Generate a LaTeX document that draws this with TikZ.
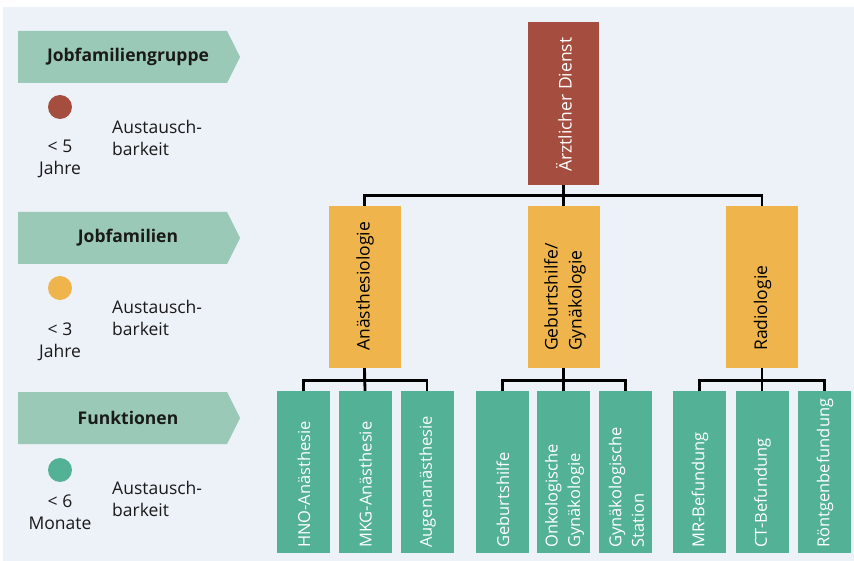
\documentclass[tikz,border=0pt]{standalone}
\usepackage{fontspec}
\setmainfont{Open Sans}
\definecolor{bgcol}{HTML}{EDF1F8}
\definecolor{redc}{HTML}{A54E3F}
\definecolor{yellowc}{HTML}{EFB44B}
\definecolor{greenc}{HTML}{53B195}
\definecolor{arrowc}{HTML}{9AC9B7}
\definecolor{textc}{HTML}{1A1A1A}
\tikzset{
  box/.style={draw=none, inner sep=0pt, minimum height=162, minimum width=53},
  topbox/.style={box, fill=redc, minimum width=71, minimum height=163},
  midbox/.style={box, fill=yellowc, minimum width=72},
  leafbox/.style={box, fill=greenc},
  vlabel/.style={rotate=90, anchor=west, inner sep=0pt, align=left,
    font=\fontsize{16.5}{22.5}\selectfont},
  biglabel/.style={vlabel, font=\fontsize{17.5}{24}\selectfont},
  conn/.style={line width=2.8pt, black},
  levelarrow/.style={fill=arrowc},
  leveltext/.style={inner sep=0pt, text=textc,
    font=\fontsize{17.5}{20}\selectfont\bfseries},
  dot/.style={circle, inner sep=0pt, minimum size=24},
  legtext/.style={inner sep=0pt, text=textc, font=\fontsize{17.5}{22}\selectfont},
}
\begin{document}
\begin{tikzpicture}[x=1pt, y=-1pt]
  % canvas
  \useasboundingbox (0,0) rectangle (854,561);
  \fill[bgcol] (3,7) rectangle (854,561);

  % legend: levels of the hierarchy (arrow-shaped bands)
  \fill[levelarrow] (18,31) -- (227,31) -- (240,57) -- (227,83) -- (18,83) -- cycle;
  \fill[levelarrow] (18,212) -- (227,212) -- (240,238) -- (227,264) -- (18,264) -- cycle;
  \fill[levelarrow] (18,392) -- (227,392) -- (240,418) -- (227,444) -- (18,444) -- cycle;
  \node[leveltext] (lv1) at (128,57) {Jobfamiliengruppe};
  \node[leveltext] (lv2) at (128,238) {Jobfamilien};
  \node[leveltext] (lv3) at (128,418) {Funktionen};

  \node[dot, fill=redc] (d1) at (60,107) {};
  \node[legtext, align=center] (t1) at (60,159) {< 5\\Jahre};
  \node[legtext, align=left, anchor=west] (a1) at (112,138) {Austausch-\\barkeit};

  \node[dot, fill=yellowc] (d2) at (60,288) {};
  \node[legtext, align=center] (t2) at (60,342) {< 3\\Jahre};
  \node[legtext, align=left, anchor=west] (a2) at (112,318) {Austausch-\\barkeit};

  \node[dot, fill=greenc] (d3) at (60,470) {};
  \node[legtext, align=center] (t3) at (60,512) {< 6\\Monate};
  \node[legtext, align=left, anchor=west] (a3) at (112,499) {Austausch-\\barkeit};

  % job family group
  \node[topbox] (ad) at (563.5,103.5) {};
  \node[biglabel, text=white] (adl) at (564,172) {Ärztlicher Dienst};

  % job families
  \node[midbox] (an) at (364.5,287) {};
  \node[midbox] (gg) at (563.5,287) {};
  \node[midbox] (ra) at (762,287) {};
  \node[biglabel, text=black] (anl) at (365,351) {Anästhesiologie};
  \node[biglabel, text=black] (ggl) at (565,351) {Geburtshilfe/\\Gynäkologie};
  \node[biglabel, text=black] (ral) at (762.5,351) {Radiologie};

  % functions
  \node[leafbox] (f1) at (303.5,472) {};
  \node[leafbox] (f2) at (365,472) {};
  \node[leafbox] (f3) at (427,472) {};
  \node[leafbox] (f4) at (502.5,472) {};
  \node[leafbox] (f5) at (563.5,472) {};
  \node[leafbox] (f6) at (625.5,472) {};
  \node[leafbox] (f7) at (699.5,472) {};
  \node[leafbox] (f8) at (762,472) {};
  \node[leafbox] (f9) at (824.5,472) {};
  \node[vlabel, text=white] (f1l) at (304,548) {HNO-Anästhesie};
  \node[vlabel, text=white] (f2l) at (365.5,548) {MKG-Anästhesie};
  \node[vlabel, text=white] (f3l) at (427.5,548) {Augenanästhesie};
  \node[vlabel, text=white] (f4l) at (503,548) {Geburtshilfe};
  \node[vlabel, text=white] (f5l) at (564.5,548) {Onkologische\\Gynäkologie};
  \node[vlabel, text=white] (f6l) at (626.5,548) {Gynäkologische\\Station};
  \node[vlabel, text=white] (f7l) at (700,548) {MR-Befundung};
  \node[vlabel, text=white] (f8l) at (762.5,548) {CT-Befundung};
  \node[vlabel, text=white] (f9l) at (825,548) {Röntgenbefundung};

  % connectors
  \draw[conn] (ad.south) -- ++(0,10) -| (an.north);
  \draw[conn] (ad.south) -- ++(0,10) -| (ra.north);
  \draw[conn] (ad.south) -- (gg.north);

  \draw[conn] (an.south) -- ++(0,12) -| (f1.north);
  \draw[conn] (an.south) -- ++(0,12) -| (f3.north);
  \draw[conn] (an.south) -- (f2.north);

  \draw[conn] (gg.south) -- ++(0,12) -| (f4.north);
  \draw[conn] (gg.south) -- ++(0,12) -| (f6.north);
  \draw[conn] (gg.south) -- (f5.north);

  \draw[conn] (ra.south) -- ++(0,12) -| (f7.north);
  \draw[conn] (ra.south) -- ++(0,12) -| (f9.north);
  \draw[conn] (ra.south) -- (f8.north);
\end{tikzpicture}
\end{document}
